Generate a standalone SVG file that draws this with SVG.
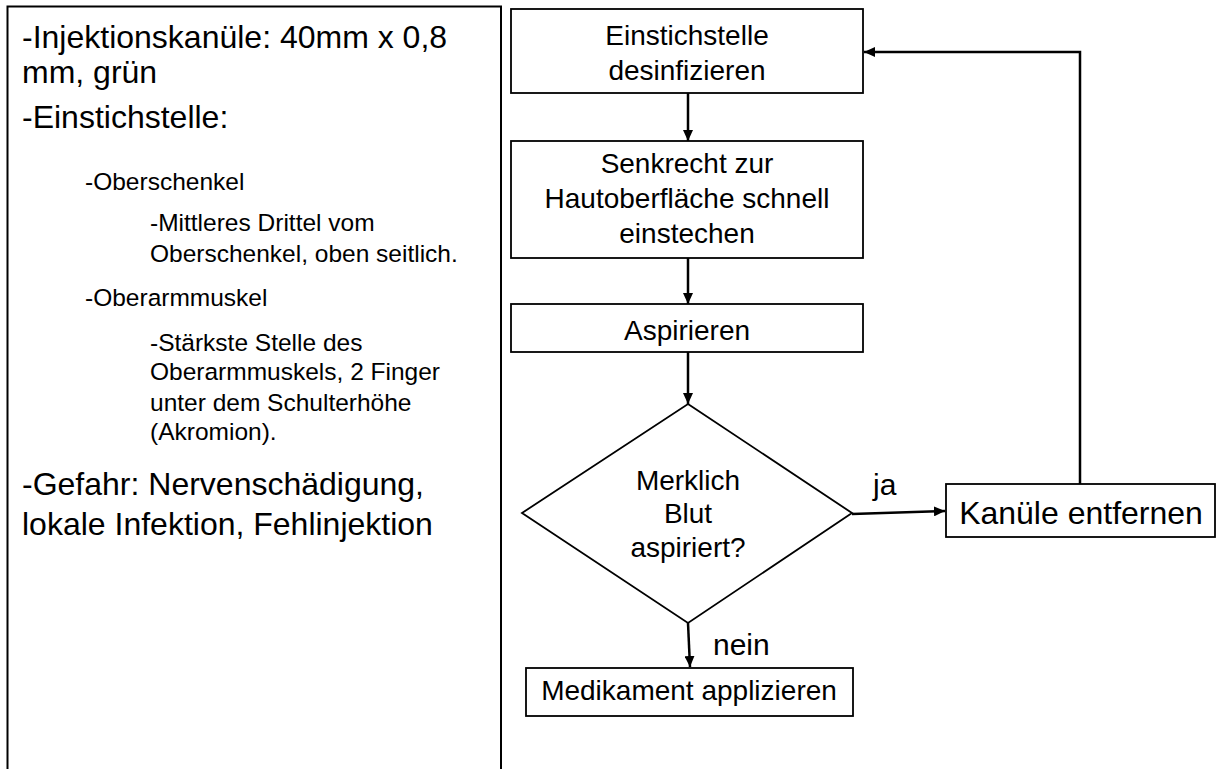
<svg xmlns="http://www.w3.org/2000/svg" width="1216" height="769" viewBox="0 0 1216 769">
<defs>
<style>
.bx{fill:#fff;stroke:#000;stroke-width:1.8}
.ln{fill:none;stroke:#000;stroke-width:2.5}
text{font-family:"Liberation Sans",Arial,sans-serif;fill:#000}
.big{font-size:32px}
.sm{font-size:24.5px}
.fc{font-size:28px;text-anchor:middle}
.lbl{font-size:30px}
</style>
<marker id="ah" viewBox="0 0 11 10" refX="11" refY="5" markerWidth="11" markerHeight="10" markerUnits="userSpaceOnUse" orient="auto">
<path d="M0,0 L11,5 L0,10 z" fill="#000"/>
</marker>
</defs>
<rect width="1216" height="769" fill="#fff"/>
<g id="info-panel">
<path d="M7.5,769 V6.5 H501 V769" fill="none" stroke="#000" stroke-width="2"/>
<text class="big" x="22" y="48">-Injektionskanüle: 40mm x 0,8</text>
<text class="big" x="22" y="83">mm, grün</text>
<text class="big" x="22" y="128">-Einstichstelle:</text>
<text class="sm" x="85" y="190">-Oberschenkel</text>
<text class="sm" x="150" y="231">-Mittleres Drittel vom</text>
<text class="sm" x="150" y="262">Oberschenkel, oben seitlich.</text>
<text class="sm" x="85" y="306">-Oberarmmuskel</text>
<text class="sm" x="150" y="351">-Stärkste Stelle des</text>
<text class="sm" x="150" y="380">Oberarmmuskels, 2 Finger</text>
<text class="sm" x="150" y="411">unter dem Schulterhöhe</text>
<text class="sm" x="150" y="440">(Akromion).</text>
<text class="big" x="22" y="495">-Gefahr: Nervenschädigung,</text>
<text class="big" x="22" y="535">lokale Infektion, Fehlinjektion</text>
</g>
<g id="connectors">
<line class="ln" x1="688" y1="93" x2="688" y2="141" marker-end="url(#ah)"/>
<line class="ln" x1="688" y1="258" x2="688" y2="304" marker-end="url(#ah)"/>
<line class="ln" x1="688" y1="352" x2="688" y2="404" marker-end="url(#ah)"/>
<line class="ln" x1="688" y1="623" x2="690" y2="667" marker-end="url(#ah)"/>
<line class="ln" x1="852" y1="514" x2="945" y2="511" marker-end="url(#ah)"/>
<polyline class="ln" points="1080,484 1080,52 864,52" marker-end="url(#ah)"/>
<text class="lbl" x="873" y="495">ja</text>
<text class="lbl" x="713" y="655">nein</text>
</g>
<g id="n1">
<rect class="bx" x="511" y="9" width="352" height="84"/>
<text class="fc" x="687" y="45">Einstichstelle</text>
<text class="fc" x="687" y="80">desinfizieren</text>
</g>
<g id="n2">
<rect class="bx" x="511" y="141" width="352" height="117"/>
<text class="fc" x="687" y="173">Senkrecht zur</text>
<text class="fc" x="687" y="208">Hautoberfläche schnell</text>
<text class="fc" x="687" y="243">einstechen</text>
</g>
<g id="n3">
<rect class="bx" x="511" y="304" width="352" height="48"/>
<text class="fc" x="687" y="340">Aspirieren</text>
</g>
<g id="n4">
<polygon class="bx" points="688,404 852,513 688,623 522,513"/>
<text class="fc" x="688" y="490">Merklich</text>
<text class="fc" x="688" y="523">Blut</text>
<text class="fc" x="688" y="557">aspiriert?</text>
</g>
<g id="n5">
<rect class="bx" x="526" y="668" width="327" height="48"/>
<text class="fc" x="689" y="700">Medikament applizieren</text>
</g>
<g id="n6">
<rect class="bx" x="946" y="484" width="269" height="53"/>
<text class="fc" style="font-size:32px" x="1081" y="524">Kanüle entfernen</text>
</g>
</svg>
